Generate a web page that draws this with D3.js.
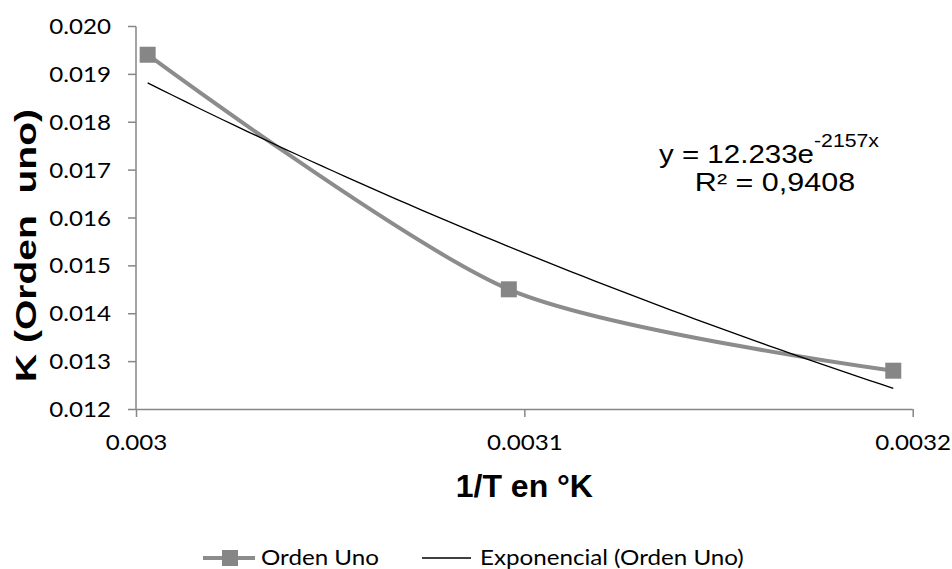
<!DOCTYPE html>
<html>
<head>
<meta charset="utf-8">
<script src="https://cdn.jsdelivr.net/npm/d3@7"></script>
<style>
  body { margin: 0; background: #fff; }
  svg { display: block; }
</style>
</head>
<body>
<svg id="chart" width="952" height="569"></svg>
<script>
// data
var invT = [0.003003, 0.003096, 0.003195];     // 1/T en °K
var kOrdenUno = [0.0194, 0.0145, 0.0128];      // K (Orden uno)
var xTicks = [0.003, 0.0031, 0.0032];
var xTickLabels = ["0.003", "0.0031", "0.0032"];
var yTicks = [0.012, 0.013, 0.014, 0.015, 0.016, 0.017, 0.018, 0.019, 0.020];
// exponential trendline shown on the chart
var trendA = 12.233, trendB = -2157, trendR2 = "0,9408";
var legendLabels = ["Orden Uno", "Exponencial (Orden Uno)"];

var svg = d3.select("#chart");
var axisColor = "#868686", seriesColor = "#8c8c8c";
var tickFont = "Lato, 'Open Sans', sans-serif";
var arial = "'Liberation Sans', Arial, sans-serif";

// the original picture is stretched sideways, widen texts the same way
function stretch(sel, f) {
    sel.each(function() {
        var w = this.getComputedTextLength();
        d3.select(this).attr("textLength", w * f).attr("lengthAdjust", "spacingAndGlyphs");
    });
}

var margin = { left: 136, right: 952 - 912.7, top: 26, bottom: 569 - 409 };
var W = 952 - margin.left - margin.right, H = 569 - margin.top - margin.bottom;

var x = d3.scaleLinear().domain([0.003, 0.0032]).range([0, W]);
var y = d3.scaleLinear().domain([0.012, 0.020]).range([H, 0]);

var g = svg.append("g").attr("transform", "translate(" + margin.left + "," + margin.top + ")");

// y axis
var yAxis = g.append("g")
    .call(d3.axisLeft(y).tickValues(yTicks).tickFormat(d3.format(".3f")).tickSize(8).tickPadding(17));
// x axis
var xAxis = g.append("g")
    .attr("transform", "translate(0," + H + ")")
    .call(d3.axisBottom(x).tickValues(xTicks).tickFormat(function(d, i) { return xTickLabels[i]; }).tickSize(8).tickPadding(18));

[yAxis, xAxis].forEach(function(ax) {
    ax.select(".domain").attr("stroke", axisColor).attr("stroke-width", 1.5);
    ax.selectAll(".tick line").attr("stroke", axisColor).attr("stroke-width", 1.5);
    ax.selectAll(".tick text")
        .attr("fill", "#000")
        .style("font-family", tickFont)
        .style("font-size", "21px");
    stretch(ax.selectAll(".tick text"), 1.15);
});
// no outer ticks at the axis ends
yAxis.select(".domain").attr("d", "M0," + H + "V0.5");
xAxis.select(".domain").attr("d", "M0,0.5H" + W);
yAxis.selectAll(".tick text").attr("dy", "0.36em");

// series: smoothed line
var pts = invT.map(function(d, i) { return [d, kOrdenUno[i]]; });
var line = d3.line()
    .x(function(d) { return x(d[0]); })
    .y(function(d) { return y(d[1]); })
    .curve(d3.curveCardinal.tension(0.2));

g.append("path")
    .datum(pts)
    .attr("d", line)
    .attr("fill", "none")
    .attr("stroke", seriesColor)
    .attr("stroke-width", 4)
    .attr("stroke-linejoin", "round");

// trendline y = a*e^(b*x) drawn between the first and last point
var trendPts = d3.range(0, 61).map(function(i) {
    var xv = invT[0] + (invT[invT.length - 1] - invT[0]) * i / 60;
    return [xv, trendA * Math.exp(trendB * xv)];
});
g.append("path")
    .datum(trendPts)
    .attr("d", d3.line().x(function(d) { return x(d[0]); }).y(function(d) { return y(d[1]); }))
    .attr("fill", "none")
    .attr("stroke", "#000")
    .attr("stroke-width", 1.3);

// markers
var ms = 16;
g.selectAll("rect.marker")
    .data(pts)
    .enter()
    .append("rect")
        .attr("class", "marker")
        .attr("x", function(d) { return x(d[0]) - ms / 2; })
        .attr("y", function(d) { return y(d[1]) - ms / 2; })
        .attr("width", ms)
        .attr("height", ms)
        .attr("fill", "#868686");

// equation label
var eq = g.append("text")
    .attr("x", 633)
    .attr("y", 137)
    .attr("text-anchor", "middle")
    .style("font-family", arial)
    .style("font-size", "25px");
eq.append("tspan").text("y = " + d3.format(".3f")(trendA) + "e");
eq.append("tspan").attr("dy", -16).style("font-size", "18px").text(trendB + "x");
stretch(eq, 1.18);

var r2 = g.append("text")
    .attr("x", 639)
    .attr("y", 165)
    .attr("text-anchor", "middle")
    .style("font-family", arial)
    .style("font-size", "25px")
    .text("R\u00b2 = " + trendR2);
stretch(r2, 1.22);

// axis titles
svg.append("text")
    .attr("x", margin.left + W / 2)
    .attr("y", 497)
    .attr("text-anchor", "middle")
    .style("font-family", arial)
    .style("font-weight", "bold")
    .style("font-size", "32px")
    .text("1/T en \u00b0K");

var yTitle = svg.append("text")
    .attr("transform", "translate(36,245.5) rotate(-90)")
    .attr("text-anchor", "middle")
    .style("font-family", arial)
    .style("font-weight", "bold")
    .style("font-size", "30px")
    .style("white-space", "pre")
    .text("K (Orden  uno)");
stretch(yTitle, 1.3);

// legend
var legend = svg.append("g").attr("transform", "translate(0,558)");
legend.append("line")
    .attr("x1", 203).attr("x2", 255).attr("y1", 0).attr("y2", 0)
    .attr("stroke", seriesColor).attr("stroke-width", 4);
legend.append("rect")
    .attr("x", 222).attr("y", -8).attr("width", 16).attr("height", 16)
    .attr("fill", "#868686");
legend.append("text")
    .attr("x", 261).attr("y", 7)
    .style("font-family", tickFont).style("font-size", "21px")
    .text(legendLabels[0]);
legend.append("line")
    .attr("x1", 422).attr("x2", 471).attr("y1", 0).attr("y2", 0)
    .attr("stroke", "#000").attr("stroke-width", 1.3);
legend.append("text")
    .attr("x", 480).attr("y", 7)
    .style("font-family", tickFont).style("font-size", "21px")
    .text(legendLabels[1]);
stretch(legend.selectAll("text"), 1.15);
</script>
</body>
</html>
